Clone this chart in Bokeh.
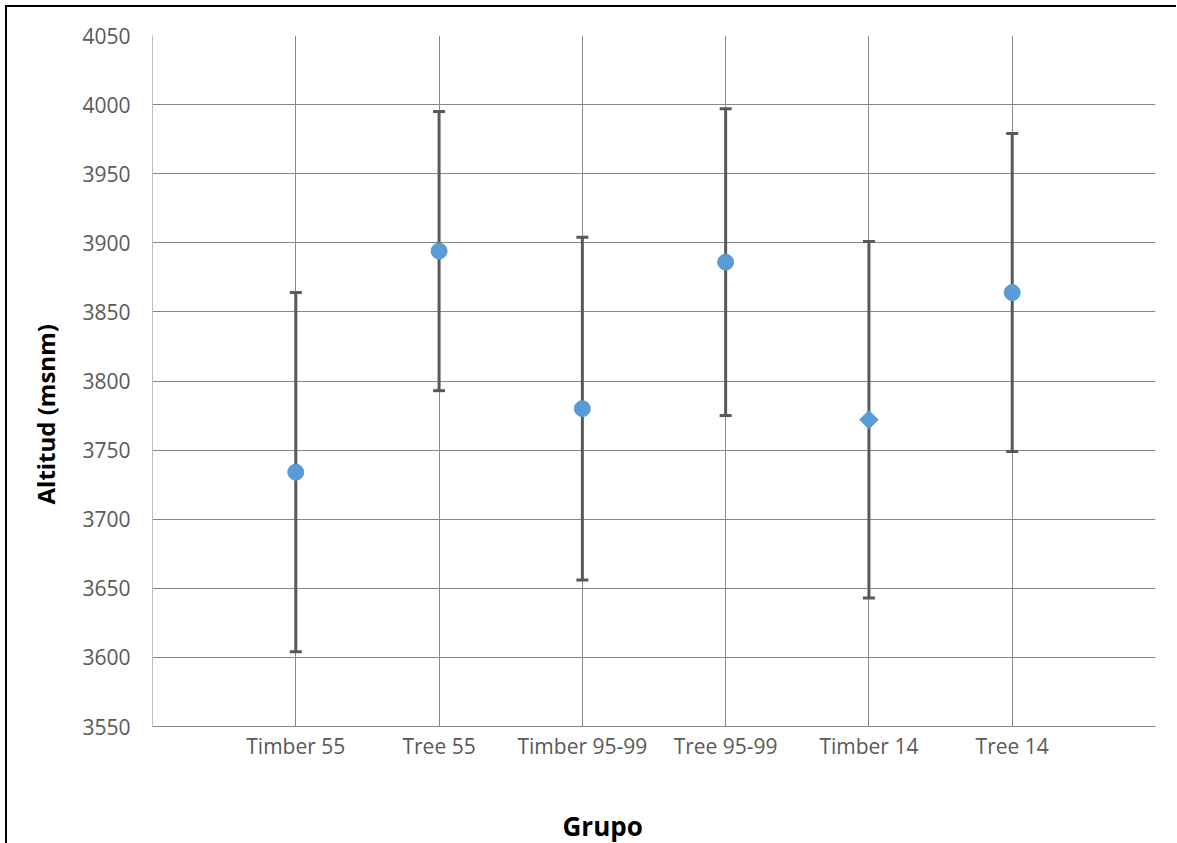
from bokeh.plotting import figure
from bokeh.models import ColumnDataSource, Range1d, FixedTicker, Whisker, TeeHead, Title, LinearAxis
from bokeh.embed import file_html
from bokeh.resources import INLINE
import math

# ---- data ----
groups = ["Timber 55", "Tree 55", "Timber 95-99", "Tree 95-99", "Timber 14", "Tree 14"]
means = [3734, 3894, 3780, 3886, 3772, 3864]
upper = [3864, 3995, 3904, 3997, 3901, 3979]
lower = [3604, 3793, 3656, 3775, 3643, 3749]
y_ticks = [3550, 3600, 3650, 3700, 3750, 3800, 3850, 3900, 3950, 4000, 4050]
y_title = "Altitud (msnm)"
x_title = "Grupo"

# style: marker type per group (Timber 14 drawn as a diamond)
marker_kind = ["circle", "circle", "circle", "circle", "diamond", "circle"]

FONT = "Open Sans"
xs = list(range(1, len(groups) + 1))
FW, FH = 1003, 691
x0, x1 = 0, len(groups) + 1
y0, y1 = y_ticks[0], y_ticks[-1]

p = figure(
    frame_width=FW, frame_height=FH,
    min_border_left=145, min_border_top=28, min_border_right=21, min_border_bottom=60,
    x_range=Range1d(x0, x1), y_range=Range1d(y0, y1),
    output_backend="svg", toolbar_location=None,
    background_fill_color="white", border_fill_color="white",
)
p.styles = {"border-left": "2px solid #000", "border-top": "2px solid #000",
            "margin-left": "5px", "margin-top": "5px"}
p.outline_line_color = None

# grids
grid_color = "#888888"
p.xaxis.ticker = FixedTicker(ticks=xs + [len(groups) + 1])
p.yaxis.ticker = FixedTicker(ticks=y_ticks)
p.xgrid.grid_line_color = grid_color
p.ygrid.grid_line_color = grid_color

labels = {i + 1: g for i, g in enumerate(groups)}
labels[len(groups) + 1] = ""
p.xaxis.major_label_overrides = labels

# axes
for ax in (p.xaxis[0], p.yaxis[0]):
    ax.major_tick_line_color = None
    ax.minor_tick_line_color = None
    ax.major_tick_out = 0
    ax.major_tick_in = 0
    ax.major_label_text_font = FONT
    ax.major_label_text_font_size = "21px"
    ax.major_label_text_color = "#595959"

p.yaxis.axis_line_color = "#bfbfbf"
p.xaxis.axis_line_color = grid_color
p.yaxis.major_label_standoff = 22
p.xaxis.major_label_standoff = 5

# invisible spacer axis between the tick labels and the x title
spacer = LinearAxis(ticker=FixedTicker(ticks=[3.5]), major_label_overrides={3.5: ""},
                    axis_line_color=None, major_tick_line_color=None,
                    minor_tick_line_color=None, major_tick_out=43, major_tick_in=0,
                    major_label_standoff=0)
p.add_layout(spacer, "below")

# axis titles, offset from the frame centre as in the original
p.add_layout(Title(text=x_title, align="left", offset=410, vertical_align="bottom",
                   standoff=0, text_font=FONT, text_font_style="bold",
                   text_font_size="26px", text_color="black"), "below")
p.add_layout(Title(text=y_title, align="left", offset=222, vertical_align="bottom",
                   standoff=36, text_font=FONT, text_font_style="bold",
                   text_font_size="24px", text_color="black"), "left")

# error bars
src = ColumnDataSource(dict(x=xs, mean=means, upper=upper, lower=lower,
                            angle=[math.pi / 4 if k == "diamond" else 0 for k in marker_kind],
                            mk=["square" if k == "diamond" else "circle" for k in marker_kind],
                            size=[13 if k == "diamond" else 16 for k in marker_kind]))
w = Whisker(base="x", upper="upper", lower="lower", source=src,
            line_color="#595959", line_width=3,
            upper_head=TeeHead(size=12, line_color="#595959", line_width=3),
            lower_head=TeeHead(size=12, line_color="#595959", line_width=3))
p.add_layout(w)

p.scatter(x="x", y="mean", source=src, marker="mk", size="size", angle="angle",
          fill_color="#5b9bd5", line_color="#5b9bd5")

open("out.html", "w").write(file_html(p, INLINE))
